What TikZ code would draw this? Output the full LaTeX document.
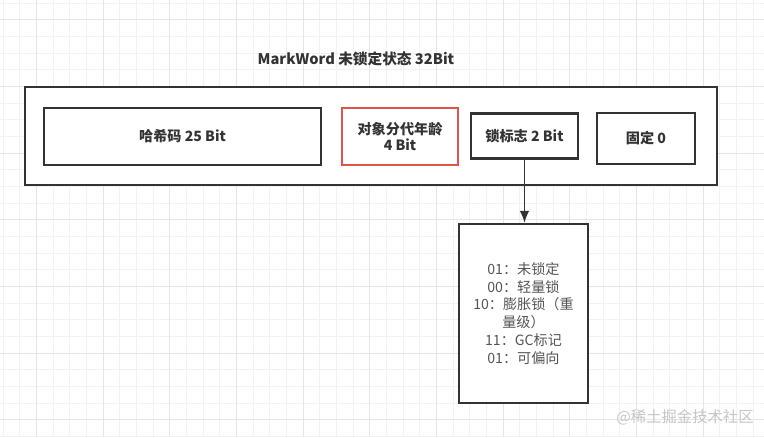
\documentclass[tikz,border=0pt]{standalone}
\usepackage{fontspec}
\setmainfont{Noto Sans CJK SC}
\usetikzlibrary{arrows.meta}
\definecolor{boxline}{RGB}{51,51,51}
\definecolor{agered}{RGB}{222,84,76}
\definecolor{gridminor}{RGB}{242,242,242}
\definecolor{gridmajor}{RGB}{229,229,229}
\definecolor{statetext}{RGB}{85,85,85}
\newcommand\pxu{0.75pt}

\begin{document}
\begin{tikzpicture}[x=0.75pt,y=-0.75pt,>=Latex,
  field/.style={draw=boxline,line width=1.6pt,fill=white,text=boxline,align=center,inner sep=0pt,
    font=\bfseries\fontsize{10.6}{12.5}\selectfont}]
  \useasboundingbox (0,0) rectangle (764,437);
  \fill[white] (0,0) rectangle (764,437);
  % background grid
  \foreach \k in {0,...,45}
    \draw[gridminor,line width=0.75pt] ({3.3+16.667*\k},0) -- ++(0,437);
  \foreach \k in {0,...,26}
    \draw[gridminor,line width=0.75pt] (0,{3.3+16.667*\k}) -- ++(764,0);
  \foreach \k in {2,6,...,42}
    \draw[gridmajor,line width=0.75pt] ({3.3+16.667*\k},0) -- ++(0,437);
  \foreach \k in {1,5,...,25}
    \draw[gridmajor,line width=0.75pt] (0,{3.3+16.667*\k}) -- ++(764,0);

  \node[text=boxline,font=\bfseries\fontsize{11}{13}\selectfont] (title) at (356,59) {MarkWord 未锁定状态 32Bit};
  \node[field,minimum width=692*\pxu,minimum height=98*\pxu] (word) at (371,136) {};
  \node[field,minimum width=277*\pxu,minimum height=57*\pxu] (hash) at (182.5,136.5) {哈希码 25 Bit};
  \node[field,draw=agered,minimum width=116*\pxu,minimum height=57*\pxu] (age) at (400,136.5) {对象分代年龄\\4 Bit};
  \node[field,minimum width=107*\pxu,minimum height=45*\pxu] (lock) at (524.5,136) {锁标志 2 Bit};
  \node[field,minimum width=98*\pxu,minimum height=51*\pxu] (fixed) at (646,138.5) {固定 0};
  \node[field,text=statetext,font=\fontsize{10.6}{13.4}\selectfont,minimum width=129*\pxu,minimum height=179*\pxu] (states) at (523.5,313.5)
    {01：未锁定\\00：轻量锁\\10：膨胀锁（重\\量级）\\11：GC标记\\01：可偏向};
  \draw[->,boxline,line width=1.2pt,>={Latex[length=9pt,width=7pt]}] (lock.south) -- (lock.south |- states.north);

  \node[text=gray!45,font=\fontsize{11.5}{13}\selectfont] (mark) at (685,417) {@稀土掘金技术社区};
\end{tikzpicture}
\end{document}
